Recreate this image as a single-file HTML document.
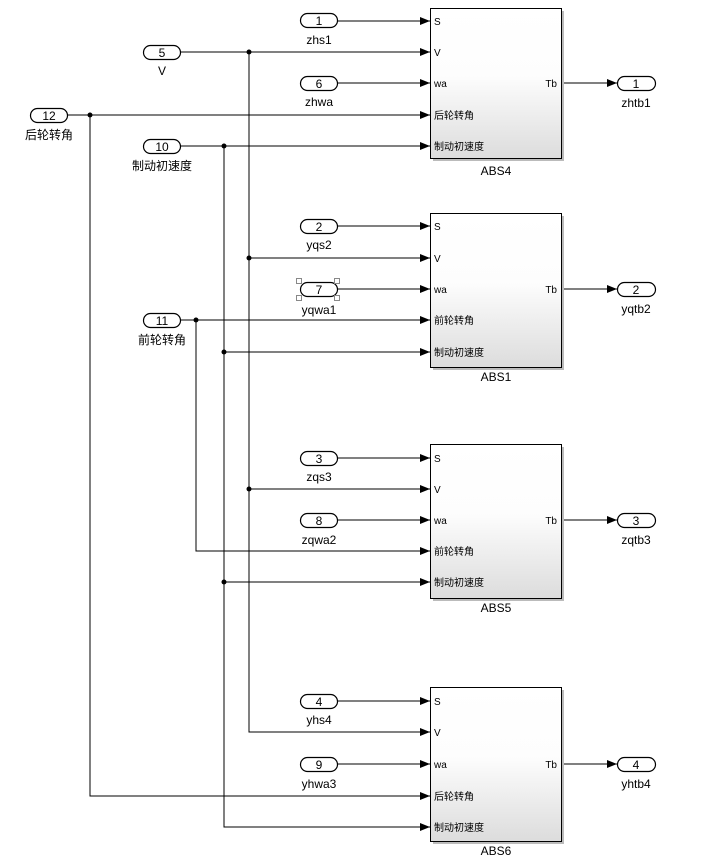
<!DOCTYPE html>
<html><head><meta charset="utf-8"><style>
html,body{margin:0;padding:0;background:#fff;}
svg{display:block;}
text{font-family:"Liberation Sans","Noto Sans CJK SC",sans-serif;fill:#000;}
.pl{font-size:10px;}
.lb{font-size:12px;}
</style></head><body>
<svg width="728" height="864" viewBox="0 0 728 864" xmlns="http://www.w3.org/2000/svg">
<defs>
<linearGradient id="g" x1="0" y1="0" x2="0" y2="1">
<stop offset="0" stop-color="#ffffff"/><stop offset="0.45" stop-color="#fdfdfd"/><stop offset="1" stop-color="#dcdcdc"/>
</linearGradient>
<marker id="a" markerWidth="10" markerHeight="8" refX="10" refY="4" orient="auto" markerUnits="userSpaceOnUse">
<path d="M0,0 L10,4 L0,8 Z" fill="#000"/></marker>
</defs>
<g stroke="#000" stroke-width="1" fill="none">
<!-- ABS4 -->
<line x1="337" y1="21" x2="430" y2="21" marker-end="url(#a)"/>
<line x1="180" y1="52" x2="430" y2="52" marker-end="url(#a)"/>
<line x1="337" y1="83" x2="430" y2="83" marker-end="url(#a)"/>
<line x1="67" y1="115" x2="430" y2="115" marker-end="url(#a)"/>
<line x1="180" y1="146" x2="430" y2="146" marker-end="url(#a)"/>
<line x1="561" y1="83" x2="617" y2="83" marker-end="url(#a)"/>
<!-- ABS1 -->
<line x1="337" y1="226" x2="430" y2="226" marker-end="url(#a)"/>
<line x1="249" y1="258" x2="430" y2="258" marker-end="url(#a)"/>
<line x1="337" y1="289" x2="430" y2="289" marker-end="url(#a)"/>
<line x1="180" y1="320" x2="430" y2="320" marker-end="url(#a)"/>
<line x1="224" y1="352" x2="430" y2="352" marker-end="url(#a)"/>
<line x1="561" y1="289" x2="617" y2="289" marker-end="url(#a)"/>
<!-- ABS5 -->
<line x1="337" y1="458" x2="430" y2="458" marker-end="url(#a)"/>
<line x1="249" y1="489" x2="430" y2="489" marker-end="url(#a)"/>
<line x1="337" y1="520" x2="430" y2="520" marker-end="url(#a)"/>
<polyline points="196,320 196,551 430,551" marker-end="url(#a)"/>
<line x1="224" y1="582" x2="430" y2="582" marker-end="url(#a)"/>
<line x1="561" y1="520" x2="617" y2="520" marker-end="url(#a)"/>
<!-- ABS6 -->
<line x1="337" y1="701" x2="430" y2="701" marker-end="url(#a)"/>
<polyline points="249,52 249,732 430,732" marker-end="url(#a)"/>
<line x1="337" y1="764" x2="430" y2="764" marker-end="url(#a)"/>
<polyline points="90,115 90,796 430,796" marker-end="url(#a)"/>
<polyline points="224,146 224,827 430,827" marker-end="url(#a)"/>
<line x1="561" y1="764" x2="617" y2="764" marker-end="url(#a)"/>
</g>
<g fill="#000">
<circle cx="90" cy="115" r="2.5"/><circle cx="249" cy="52" r="2.5"/><circle cx="224" cy="146" r="2.5"/>
<circle cx="249" cy="258" r="2.5"/><circle cx="196" cy="320" r="2.5"/><circle cx="224" cy="352" r="2.5"/>
<circle cx="249" cy="489" r="2.5"/><circle cx="224" cy="582" r="2.5"/>
</g>
<!-- blocks -->
<g>
<rect x="433" y="11" width="131" height="150" fill="#bbb"/>
<rect x="430.5" y="8.5" width="131" height="150" fill="url(#g)" stroke="#000"/>
<rect x="433" y="216" width="131" height="154" fill="#bbb"/>
<rect x="430.5" y="213.5" width="131" height="154" fill="url(#g)" stroke="#000"/>
<rect x="433" y="447" width="131" height="154" fill="#bbb"/>
<rect x="430.5" y="444.5" width="131" height="154" fill="url(#g)" stroke="#000"/>
<rect x="433" y="690" width="131" height="154" fill="#bbb"/>
<rect x="430.5" y="687.5" width="131" height="154" fill="url(#g)" stroke="#000"/>
</g>
<g class="pl">
<text x="434" y="25">S</text><text x="434" y="56">V</text><text x="434" y="87">wa</text><text x="434" y="119">后轮转角</text><text x="434" y="150">制动初速度</text><text x="557" y="87" text-anchor="end">Tb</text>
<text x="434" y="230">S</text><text x="434" y="262">V</text><text x="434" y="293">wa</text><text x="434" y="324">前轮转角</text><text x="434" y="356">制动初速度</text><text x="557" y="293" text-anchor="end">Tb</text>
<text x="434" y="462">S</text><text x="434" y="493">V</text><text x="434" y="524">wa</text><text x="434" y="555">前轮转角</text><text x="434" y="586">制动初速度</text><text x="557" y="524" text-anchor="end">Tb</text>
<text x="434" y="705">S</text><text x="434" y="736">V</text><text x="434" y="768">wa</text><text x="434" y="800">后轮转角</text><text x="434" y="831">制动初速度</text><text x="557" y="768" text-anchor="end">Tb</text>
</g>
<g class="lb" text-anchor="middle">
<text x="496" y="175">ABS4</text><text x="496" y="381">ABS1</text><text x="496" y="612">ABS5</text><text x="496" y="855">ABS6</text>
</g>
<!-- ports -->
<g fill="#fff" stroke="#000" stroke-width="1.2">
<rect x="300.5" y="13.5" width="37" height="14" rx="7"/>
<rect x="143.5" y="45.5" width="37" height="14" rx="7"/>
<rect x="300.5" y="76.5" width="37" height="14" rx="7"/>
<rect x="30.5" y="108.5" width="37" height="14" rx="7"/>
<rect x="143.5" y="139.5" width="37" height="14" rx="7"/>
<rect x="300.5" y="219.5" width="37" height="14" rx="7"/>
<rect x="300.5" y="282.5" width="37" height="14" rx="7"/>
<rect x="143.5" y="313.5" width="37" height="14" rx="7"/>
<rect x="300.5" y="451.5" width="37" height="14" rx="7"/>
<rect x="300.5" y="513.5" width="37" height="14" rx="7"/>
<rect x="300.5" y="694.5" width="37" height="14" rx="7"/>
<rect x="300.5" y="757.5" width="37" height="14" rx="7"/>
<rect x="617.5" y="76.5" width="38" height="14" rx="7"/>
<rect x="617.5" y="282.5" width="38" height="14" rx="7"/>
<rect x="617.5" y="513.5" width="38" height="14" rx="7"/>
<rect x="617.5" y="757.5" width="38" height="14" rx="7"/>
</g>
<g fill="#fff" stroke="#888" stroke-width="1">
<rect x="296.5" y="278.5" width="5" height="5"/><rect x="334.5" y="278.5" width="5" height="5"/>
<rect x="296.5" y="295.5" width="5" height="5"/><rect x="334.5" y="295.5" width="5" height="5"/>
</g>
<g class="lb" text-anchor="middle">
<text x="319" y="25">1</text><text x="162" y="57">5</text><text x="319" y="88">6</text><text x="49" y="120">12</text><text x="162" y="151">10</text>
<text x="319" y="231">2</text><text x="319" y="294">7</text><text x="162" y="325">11</text>
<text x="319" y="463">3</text><text x="319" y="525">8</text>
<text x="319" y="706">4</text><text x="319" y="769">9</text>
<text x="636" y="88">1</text><text x="636" y="294">2</text><text x="636" y="525">3</text><text x="636" y="769">4</text>
<text x="319" y="44">zhs1</text><text x="162" y="75">V</text><text x="319" y="106">zhwa</text><text x="49" y="139">后轮转角</text><text x="162" y="170">制动初速度</text>
<text x="319" y="249">yqs2</text><text x="319" y="314">yqwa1</text><text x="162" y="344">前轮转角</text>
<text x="319" y="481">zqs3</text><text x="319" y="544">zqwa2</text>
<text x="319" y="724">yhs4</text><text x="319" y="788">yhwa3</text>
<text x="636" y="107">zhtb1</text><text x="636" y="313">yqtb2</text><text x="636" y="544">zqtb3</text><text x="636" y="788">yhtb4</text>
</g>
</svg>
</body></html>
